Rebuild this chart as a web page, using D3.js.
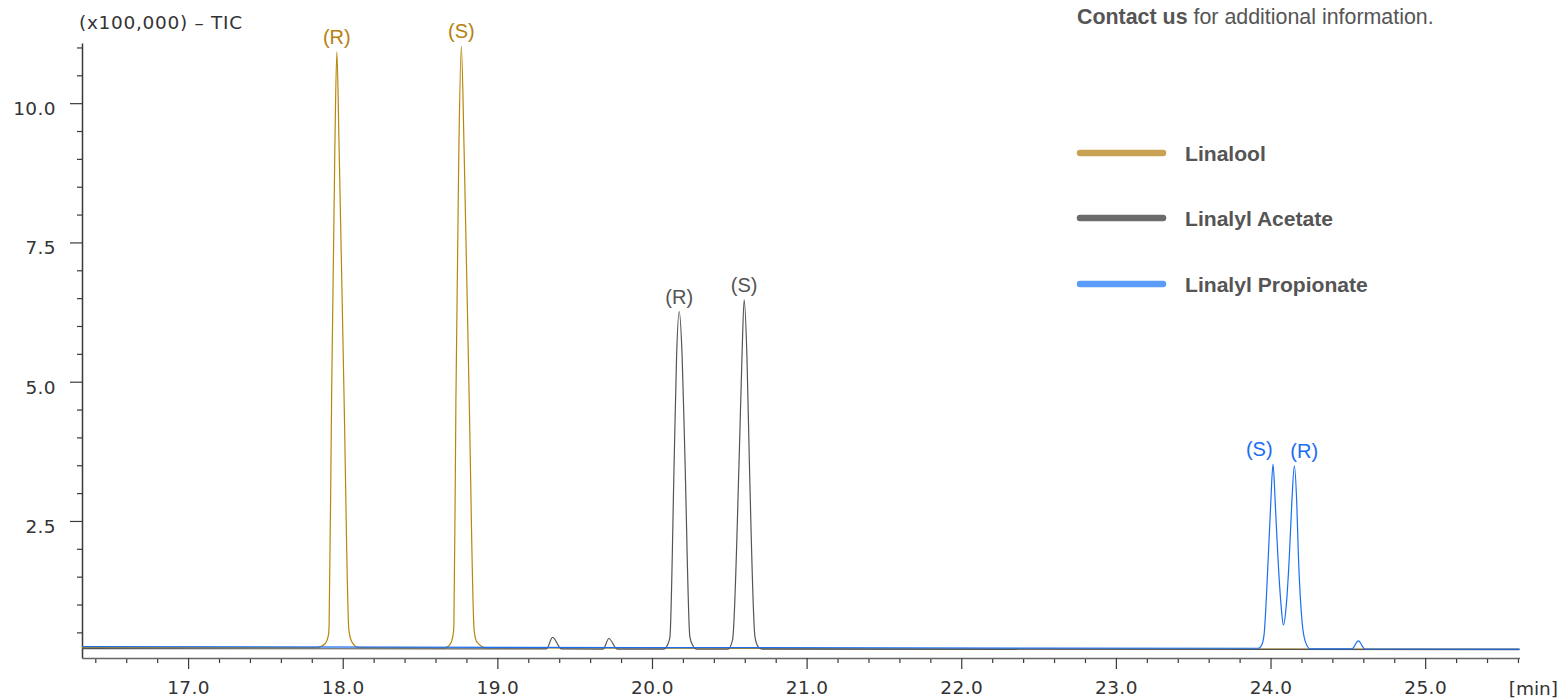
<!DOCTYPE html>
<html>
<head>
<meta charset="utf-8">
<script src="https://cdn.jsdelivr.net/npm/d3@7"></script>
<style>
  html, body { margin: 0; padding: 0; background: #fff; }
  svg { display: block; }
</style>
</head>
<body>
<svg id="chart" width="1562" height="698"></svg>
<script>
// ---------------- DATA ----------------
const seriesNames = ["Linalool", "Linalyl Acetate", "Linalyl Propionate"];

// Linalool (time in min, intensity x100,000)
const linaloolTime = [16.314, 17.0, 17.831, 17.884, 17.907, 17.912, 17.928, 17.949, 17.962, 17.977, 18.009, 18.040, 18.059, 18.104,
                      18.661, 18.693, 18.713, 18.719, 18.732, 18.751, 18.767, 18.785, 18.818, 18.850, 18.867, 18.932, 21.0, 24.0, 25.61];
const linaloolValue = [0.23, 0.228, 0.225, 0.29, 0.44, 0.63, 4.67, 9.16, 10.92, 9.16, 4.67, 0.54, 0.33, 0.225,
                       0.222, 0.28, 0.44, 0.62, 4.67, 9.16, 11.02, 9.16, 4.67, 0.54, 0.33, 0.22, 0.21, 0.20, 0.20];

// Linalyl Acetate
const acetateTime = [16.314, 19.318, 19.357, 19.415, 19.684, 19.721, 19.775,
                     20.077, 20.105, 20.116, 20.144, 20.159, 20.176, 20.195, 20.213, 20.245, 20.263, 20.290,
                     20.491, 20.521, 20.564, 20.582, 20.596, 20.614, 20.629, 20.666, 20.687, 20.711, 25.61];
const acetateValue = [0.208, 0.205, 0.41, 0.203, 0.20, 0.39, 0.20,
                      0.20, 0.305, 0.42, 3.65, 5.45, 6.26, 5.45, 3.65, 0.42, 0.27, 0.197,
                      0.197, 0.364, 3.65, 5.45, 6.47, 5.45, 3.65, 0.42, 0.24, 0.20, 0.19];

// Linalyl Propionate
const propionateTime = [16.314, 20.0, 23.921, 23.943, 23.958, 23.986, 24.001, 24.016, 24.031, 24.047, 24.068, 24.083,
                        24.102, 24.122, 24.137, 24.154, 24.170, 24.180, 24.204, 24.225, 24.256, 24.525, 24.568, 24.611, 25.61];
const propionateValue = [0.245, 0.228, 0.215, 0.275, 0.454, 1.89, 2.79, 3.52, 2.79, 1.89, 0.99, 0.633,
                         0.99, 1.89, 2.79, 3.49, 2.79, 1.89, 0.69, 0.334, 0.205, 0.203, 0.346, 0.202, 0.20];

// Peak labels
const labelText   = ["(R)", "(S)", "(R)", "(S)", "(S)", "(R)"];
const labelSeries = [0, 0, 1, 1, 2, 2];
const labelTime   = [17.962, 18.767, 20.176, 20.596, 23.927, 24.218];
const labelValue  = [10.92, 11.02, 6.26, 6.47, 3.52, 3.49];

// Axis ticks
const xMajorTicks = [17, 18, 19, 20, 21, 22, 23, 24, 25];
const yMajorTicks = [2.5, 5.0, 7.5, 10.0];

// ---------------- STYLE ----------------
const lineColors   = ["#b8860b", "#555555", "#1a6ef0"];
const labelColors  = ["#b5820f", "#555555", "#1a6ef0"];
const legendColors = ["#c9a152", "#6b6b6b", "#5a9cf8"];

const svg = d3.select("#chart");
const x = d3.scaleLinear().domain([16.314, 25.61]).range([82, 1519.5]);
const y = d3.scaleLinear().domain([0.04, 11.08]).range([658, 43]);

const axisFont = "'DejaVu Sans', Verdana, sans-serif";
const textFont = "'Liberation Sans', Arial, Helvetica, sans-serif";
const axisColor = "#3a3a3a";

// minor tick arrays built from the scales' domains
const xMinor = d3.range(16.4, 25.61, 0.2).filter(v => Math.abs(v - Math.round(v)) > 0.01);
const yMinor = d3.range(0.5, 11.01, 0.5).filter(v => !yMajorTicks.some(m => Math.abs(m - v) < 0.01));

// Y axis
const gy = svg.append("g").attr("transform", "translate(82,0)");
gy.call(d3.axisLeft(y).tickValues(yMinor).tickSize(5).tickSizeOuter(0).tickFormat(""));
gy.call(g => g.selectAll(".domain").remove());
const gy2 = svg.append("g").attr("transform", "translate(82,0)");
gy2.call(d3.axisLeft(y).tickValues(yMajorTicks).tickSize(12).tickSizeOuter(0).tickPadding(14).tickFormat(d3.format(".1f")));
[gy, gy2].forEach(g => {
  g.selectAll("line").attr("stroke", axisColor).attr("stroke-width", 1.2);
  g.selectAll(".domain").attr("stroke", axisColor).attr("stroke-width", 1.5);
  g.selectAll("text").attr("font-family", axisFont).attr("font-size", 18.5).attr("fill", "#333")
    .attr("dy", "0.62em").attr("letter-spacing", "0.4px");
});

// X axis
const gx = svg.append("g").attr("transform", "translate(0,658)");
gx.call(d3.axisBottom(x).tickValues(xMinor).tickSize(5).tickSizeOuter(0).tickFormat(""));
gx.call(g => g.selectAll(".domain").remove());
const gx2 = svg.append("g").attr("transform", "translate(0,658)");
gx2.call(d3.axisBottom(x).tickValues(xMajorTicks).tickSize(11).tickSizeOuter(0).tickPadding(12).tickFormat(d3.format(".1f")));
[gx, gx2].forEach(g => {
  g.selectAll("line").attr("stroke", axisColor).attr("stroke-width", 1.2);
  g.selectAll(".domain").attr("stroke", "#666").attr("stroke-width", 1.5);
  g.selectAll("text").attr("font-family", axisFont).attr("font-size", 18.5).attr("fill", "#333")
    .attr("letter-spacing", "0.4px");
});

svg.append("text").attr("x", 1558).attr("y", 695).attr("text-anchor", "end")
  .attr("font-family", axisFont).attr("font-size", 18.5).attr("fill", "#333").text("[min]");

svg.append("text").attr("x", 79).attr("y", 29)
  .attr("font-family", axisFont).attr("font-size", 18.5).attr("fill", "#333")
  .attr("letter-spacing", "0.7px").text("(x100,000) – TIC");

// Lines
const series = [
  d3.zip(linaloolTime, linaloolValue),
  d3.zip(acetateTime, acetateValue),
  d3.zip(propionateTime, propionateValue)
];
const line = d3.line().x(d => x(d[0])).y(d => y(d[1])).curve(d3.curveMonotoneX);
series.forEach((pts, i) => {
  svg.append("path").attr("d", line(pts)).attr("fill", "none")
    .attr("stroke", lineColors[i]).attr("stroke-width", 1.2).attr("stroke-linejoin", "round");
});

// Peak labels
labelText.forEach((t, i) => {
  svg.append("text").attr("x", x(labelTime[i])).attr("y", y(labelValue[i]) - 8)
    .attr("text-anchor", "middle").attr("font-family", textFont).attr("font-size", 20)
    .attr("fill", labelColors[labelSeries[i]]).text(t);
});

// Contact line
const contact = svg.append("text").attr("x", 1077).attr("y", 24)
  .attr("font-family", textFont).attr("font-size", 21.4).attr("fill", "#555");
contact.append("tspan").attr("font-weight", "bold").text("Contact us");
contact.append("tspan").text(" for additional information.");

// Legend
const legendY = [153, 218, 284];
seriesNames.forEach((name, i) => {
  svg.append("line").attr("x1", 1080).attr("x2", 1163).attr("y1", legendY[i]).attr("y2", legendY[i])
    .attr("stroke", legendColors[i]).attr("stroke-width", 6.5).attr("stroke-linecap", "round");
  svg.append("text").attr("x", 1185).attr("y", legendY[i] + 7.5)
    .attr("font-family", textFont).attr("font-size", 21.1).attr("font-weight", "bold")
    .attr("fill", "#555").text(name);
});
</script>
</body>
</html>
